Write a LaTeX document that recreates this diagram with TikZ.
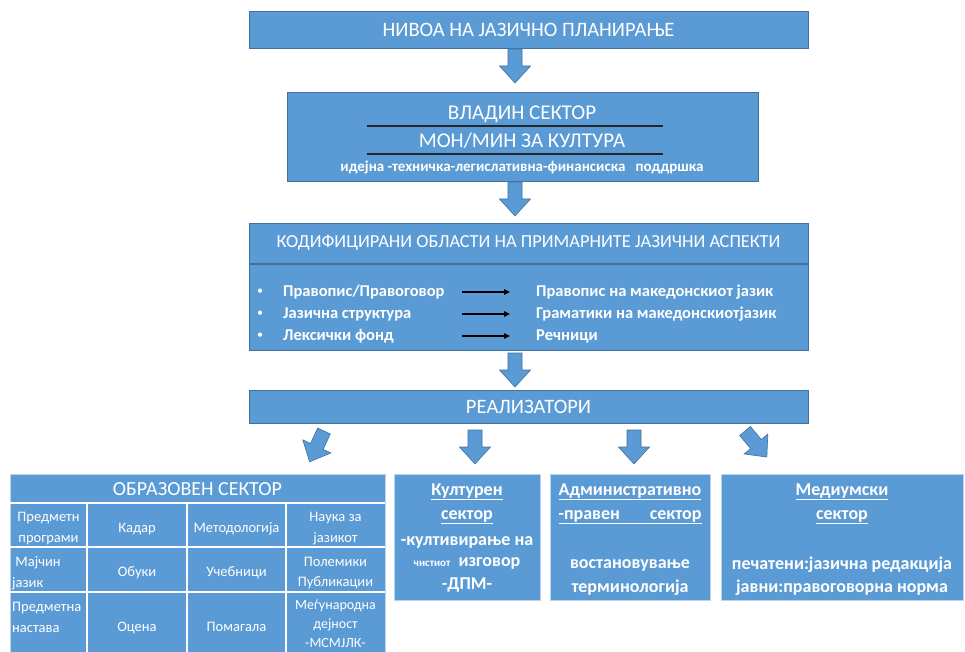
\documentclass[tikz,border=0pt]{standalone}
\usepackage{fontspec}
\setmainfont{Carlito}
\usetikzlibrary{arrows.meta}
\definecolor{boxblue}{HTML}{5B9BD5}
\definecolor{boxedge}{HTML}{41719C}
\definecolor{lightedge}{HTML}{BDD3EC}
\newcommand\blkarrow[3]{\draw[barrow, shift={(#1,#2)}, rotate=#3] (-7,0) -- (7,0) -- (7,17) -- (15.5,17) -- (0,34) -- (-15.5,17) -- (-7,17) -- cycle;}
\newcommand\fs[1]{\fontsize{#1}{#1}\selectfont}
\begin{document}
\begin{tikzpicture}[x=1pt,y=-1pt,
  box/.style={draw=boxedge, fill=boxblue, line width=1.2pt, inner sep=0pt, anchor=north west},
  lbox/.style={draw=lightedge, fill=boxblue, line width=1pt, inner sep=0pt, anchor=north west},
  wt/.style={text=white, inner sep=0pt},
  barrow/.style={fill=boxblue, draw=boxedge, line width=0.6pt, line join=miter},
  bigt/.style={wt, font=\fs{20.5}},
  itm/.style={wt, anchor=west, font=\bfseries\fs{16.5}},
  cell/.style={wt, align=center, font=\fs{14.5}, text depth=0pt},
  bot/.style={wt, font=\bfseries\fs{18}},
  blk/.style={-{Triangle[length=6pt,width=5.5pt]}, line width=1.4pt, black},
  grid/.style={draw=white, line width=1.3pt}
]
\useasboundingbox (0,0) rectangle (965,652);
\clip (0,0) rectangle (965,652);

% Box 1
\node[box, minimum width=559pt, minimum height=37pt] (b1) at (249,11) {};
\node[bigt] (t1) at (528.5,29.5) {НИВОА НА ЈАЗИЧНО ПЛАНИРАЊЕ};

% Box 2
\node[box, minimum width=471pt, minimum height=89pt] (b2) at (287,92) {};
\node[wt, font=\fs{21}] (t2a) at (522,114) {ВЛАДИН СЕКТОР};
\node[wt, font=\fs{21}] (t2b) at (522,141) {МОН/МИН ЗА КУЛТУРА};
\node[wt, font=\bfseries\fs{15}] (t2c) at (522,168) {идејна -техничка-легислативна-финансиска\ \ \ поддршка};
\coordinate (l1a) at (367,126); \coordinate (l1b) at (663,126);
\coordinate (l2a) at (367,154); \coordinate (l2b) at (663,154);
\draw[line width=1.6pt, black!85] (l1a) -- (l1b);
\draw[line width=1.6pt, black!85] (l2a) -- (l2b);

% Box 3
\node[box, minimum width=559pt, minimum height=127pt] (b3) at (249,223) {};
\coordinate (d1) at (249,264); \coordinate (d2) at (808,264);
\draw[boxedge, line width=1.2pt] (d1) -- (d2);
\node[wt, font=\fs{18.4}] (t3) at (528.5,243) {КОДИФИЦИРАНИ ОБЛАСТИ НА ПРИМАРНИТЕ ЈАЗИЧНИ АСПЕКТИ};
\foreach \yy/\a/\b [count=\i] in {292/{Правопис/Правоговор}/{Правопис на македонскиот јазик},
                                  314/{Јазична структура}/{Граматики на македонскиотјазик},
                                  336/{Лексички фонд}/{Речници}}{
  \node[wt, font=\fs{12}] (bul\i) at (260,\yy) {•};
  \node[itm] (il\i) at (283,\yy) {\a};
  \coordinate (aa\i) at (462,\yy); \coordinate (ab\i) at (510,\yy);
  \draw[blk] (aa\i) -- (ab\i);
  \node[itm] (ir\i) at (536,\yy) {\b};
}

% Box 4
\node[box, minimum width=559pt, minimum height=33pt] (b4) at (249,390) {};
\node[bigt] (t4) at (528.5,406.5) {РЕАЛИЗАТОРИ};

% Block arrows
\blkarrow{515}{49}{0}
\blkarrow{515}{182}{0}
\blkarrow{515}{353}{0}
\blkarrow{324}{431}{-25}
\blkarrow{475}{430}{0}
\blkarrow{634}{430}{0}
\blkarrow{745}{431}{40}

% Education table
\node[lbox, minimum width=375pt, minimum height=190pt] (tab) at (10,474) {};
\draw[grid] (10,503) -- (385,503);
\draw[grid] (10,547) -- (385,547);
\draw[grid] (10,592) -- (385,592);
\draw[grid] (87,503) -- (87,664);
\draw[grid] (187,503) -- (187,664);
\draw[grid] (286,503) -- (286,664);
\node[wt, font=\fs{20}] (tt) at (197.5,489) {ОБРАЗОВЕН СЕКТОР};
\node[cell] (c11) at (48.5,527.5) {Предметн\\[6pt]програми};
\node[cell] (c12) at (137,527.5) {Кадар};
\node[cell] (c13) at (236.5,527.5) {Методологија};
\node[cell] (c14) at (335.5,527.5) {Наука за\\[6pt]јазикот};
\node[cell, anchor=west, align=left] (c21) at (12,572) {\ Мајчин\\[6pt]јазик};
\node[cell] (c22) at (137,572) {Обуки};
\node[cell] (c23) at (236.5,572) {Учебници};
\node[cell] (c24) at (335.5,572) {Полемики\\[6pt]Публикации};
\node[cell, anchor=west, align=left] (c31) at (12,617.5) {Предметна\\[6pt]настава};
\node[cell] (c32) at (137,627) {Оцена};
\node[cell] (c33) at (236.5,627) {Помагала};
\node[cell, font=\fs{14}] (c34) at (335.5,623.5) {Меѓународна\\[5pt]дејност\\[5pt]-МСМЈЛК-};

% Bottom boxes
\node[lbox, minimum width=146pt, minimum height=126pt] (kb) at (394,474) {};
\node[bot] (k1) at (467,492) {\underline{Културен}};
\node[bot] (k2) at (467,517) {\underline{сектор}};
\node[bot] (k3) at (467,542) {-култивирање на};
\node[bot] (k4) at (467,563) {{\fs{11}чистиот}\ \ изговор};
\node[bot] (k5) at (467,585) {-ДПМ-};

\node[lbox, minimum width=160pt, minimum height=126pt] (ab) at (550,474) {};
\node[bot] (m1) at (630,492) {\underline{Административно}};
\node[bot] (m2) at (630,517) {\underline{\makebox[143pt][s]{-правен\hfill сектор}}};
\node[bot] (m3) at (630,565) {востановување};
\node[bot] (m4) at (630,588) {терминологија};

\node[lbox, minimum width=242pt, minimum height=126pt] (mb) at (721,474) {};
\node[bot] (n1) at (842,492) {\underline{Медиумски}};
\node[bot] (n2) at (842,517) {\underline{сектор}};
\node[bot] (n3) at (842,565) {печатени:јазична редакција};
\node[bot] (n4) at (842,588) {јавни:правоговорна норма};
\end{tikzpicture}
\end{document}
